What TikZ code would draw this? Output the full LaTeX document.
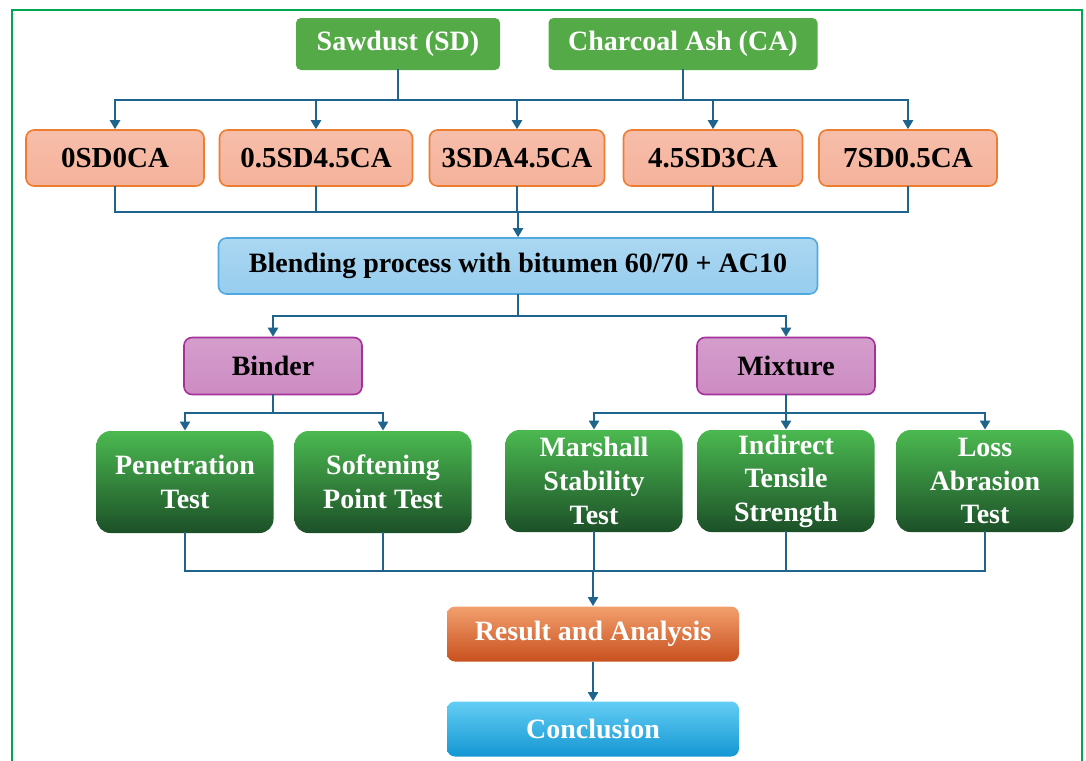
\documentclass[tikz,border=0pt]{standalone}
\usepackage{fontspec}
\setmainfont{Liberation Serif}
\usetikzlibrary{arrows.meta,positioning,calc}

\definecolor{linkblue}{RGB}{31,100,140}
\definecolor{framegreen}{RGB}{0,166,81}
\definecolor{srcgreen}{RGB}{84,170,70}
\definecolor{mixfill}{RGB}{245,178,155}
\definecolor{mixline}{RGB}{237,125,49}
\definecolor{blendfill}{RGB}{150,205,238}
\definecolor{blendline}{RGB}{80,170,225}
\definecolor{grpfill}{RGB}{205,140,195}
\definecolor{grpline}{RGB}{165,50,155}
\definecolor{testtop}{RGB}{75,185,80}
\definecolor{testbot}{RGB}{28,80,40}
\definecolor{restop}{RGB}{242,160,110}
\definecolor{resbot}{RGB}{200,80,30}
\definecolor{contop}{RGB}{100,205,245}
\definecolor{conbot}{RGB}{20,150,210}

\begin{document}
\begin{tikzpicture}[x=0.5pt,y=-0.5pt,
  box/.style={rounded corners=4pt, align=center, inner sep=0pt},
  src/.style={box, rounded corners=2.5pt, fill=srcgreen, text=white, minimum height=26pt, font=\bfseries\fontsize{14}{16}\selectfont},
  mix/.style={box, top color=mixfill!85, bottom color=mixfill, draw=mixline, line width=0.8pt, minimum height=28pt, font=\bfseries\fontsize{14.5}{16}\selectfont},
  blendbox/.style={box, top color=blendfill!80, bottom color=blendfill, draw=blendline, line width=0.8pt, minimum height=28pt, font=\bfseries\fontsize{14}{16}\selectfont},
  grp/.style={box, top color=grpfill!85, bottom color=grpfill, draw=grpline, line width=0.8pt, minimum height=28.5pt, minimum width=89pt, font=\bfseries\fontsize{14}{16}\selectfont},
  test/.style={box, rounded corners=7pt, top color=testtop, bottom color=testbot, text=white, minimum height=51pt, minimum width=88.5pt, font=\bfseries\fontsize{14}{16.8}\selectfont},
  final/.style={box, minimum height=27.5pt, minimum width=146pt, text=white, font=\bfseries\fontsize{14}{16}\selectfont},
  conn/.style={draw=linkblue, line width=1.1pt, line cap=rect},
  arr/.style={draw=linkblue, line width=1.1pt, -{Triangle[length=4.5pt,width=5pt]}}
]
\useasboundingbox (0,0) rectangle (1086,760);
% Frame
\draw[framegreen, line width=1.3pt] (12,10) rectangle (1082,800);

% Additives
\node[src, minimum width=102pt] (sd) at (398,44) {Sawdust (SD)};
\node[src, minimum width=134.5pt] (ca) at (683,44) {Charcoal Ash (CA)};

% Mix designs
\foreach \n/\x/\w/\t in {o1/115/89/0SD0CA, o2/316/96.5/0.5SD4.5CA, o3/517/87.5/3SDA4.5CA, o4/713/89.5/4.5SD3CA, o5/908/89/7SD0.5CA} {
  \node[mix, minimum width=\w pt] (\n) at (\x,158) {\t};
}

% Blending
\node[blendbox, minimum width=299.5pt] (blend) at (518,266) {Blending process with bitumen 60/70 + AC10};

% Binder / Mixture
\node[grp] (binder) at (273,366) {Binder};
\node[grp] (mixture) at (786,366) {Mixture};

% Tests
\node[test] (pen) at (185,482) {Penetration\\Test};
\node[test] (soft) at (383,482) {Softening\\Point Test};
\node[test] (mars) at (594,481) {Marshall\\Stability\\Test};
\node[test] (ind) at (786,481) {Indirect\\Tensile\\Strength};
\node[test] (loss) at (985,481) {Loss\\Abrasion\\Test};

% Result and conclusion
\node[final, top color=restop, bottom color=resbot] (result) at (593,634) {Result and Analysis};
\node[final, top color=contop, bottom color=conbot] (concl) at (593,729) {Conclusion};

% Additives -> mixes
\coordinate (bus1) at (0,100);
\draw[conn] (sd.south) -- (sd.south |- bus1);
\draw[conn] (ca.south) -- (ca.south |- bus1);
\draw[conn] (o1.north |- bus1) -- (o5.north |- bus1);
\foreach \n in {o1,o2,o3,o4,o5} {
  \draw[arr] (\n.north |- bus1) -- (\n.north);
}

% Mixes -> blending
\coordinate (bus2) at (0,212);
\foreach \n in {o1,o2,o3,o4,o5} {
  \draw[conn] (\n.south) -- (\n.south |- bus2);
}
\draw[conn] (o1.south |- bus2) -- (o5.south |- bus2);
\draw[arr] (blend.north |- bus2) -- (blend.north);

% Blending -> binder, mixture
\coordinate (bus3) at (0,316);
\draw[conn] (blend.south) -- (blend.south |- bus3);
\draw[conn] (binder.north |- bus3) -- (mixture.north |- bus3);
\draw[arr] (binder.north |- bus3) -- (binder.north);
\draw[arr] (mixture.north |- bus3) -- (mixture.north);

% Binder / mixture -> tests
\coordinate (bus4) at (0,413);
\draw[conn] (binder.south) -- (binder.south |- bus4);
\draw[conn] (pen.north |- bus4) -- (soft.north |- bus4);
\draw[conn] (mixture.south) -- (mixture.south |- bus4);
\draw[conn] (mars.north |- bus4) -- (loss.north |- bus4);
\foreach \n in {pen,soft,mars,ind,loss} {
  \draw[arr] (\n.north |- bus4) -- (\n.north);
}

% Tests -> result -> conclusion
\coordinate (bus5) at (0,571);
\foreach \n in {pen,soft,mars,ind,loss} {
  \draw[conn] (\n.south) -- (\n.south |- bus5);
}
\draw[conn] (pen.south |- bus5) -- (loss.south |- bus5);
\draw[arr] (result.north |- bus5) -- (result.north);
\draw[arr] (result.south) -- (concl.north);
\end{tikzpicture}
\end{document}
